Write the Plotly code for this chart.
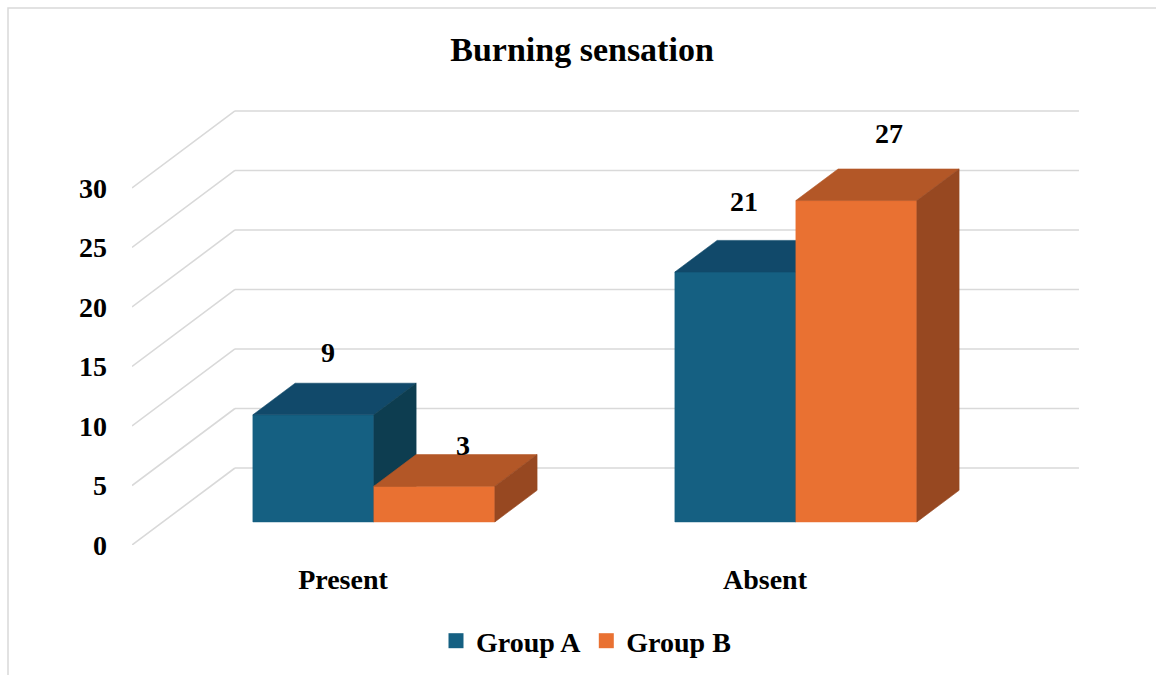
import plotly.graph_objects as go

# Data
categories = ["Present", "Absent"]
series_names = ["Group A", "Group B"]
group_a = [9, 21]
group_b = [3, 27]
tick_values = [0, 5, 10, 15, 20, 25, 30]

values = {"Group A": group_a, "Group B": group_b}

# Colours per series: front, top, side faces
face_colors = {
    "Group A": ("#156082", "#11496a", "#0d3d50"),
    "Group B": ("#e97132", "#b35727", "#974821"),
}

# Oblique projection settings (x in category units, y in value units)
DX = 0.244      # full depth shift along x
DY = 6.47       # full depth shift along y
D0, D1 = 0.30, 0.71   # bar front / back depth
BAR_W = 0.2867  # width of one bar in category units
X_MIN, X_MAX = -0.5, 1.5

# label nudges in px (dx, dy) for the value labels, per series
label_nudge = {"Group A": [(-7, -47), (-13, -55)], "Group B": [(8, -25), (12, -51)]}


def P(x, y, d):
    return x + d * DX, y + d * DY


def poly(pts, color):
    xs = [p[0] for p in pts] + [pts[0][0]]
    ys = [p[1] for p in pts] + [pts[0][1]]
    return go.Scatter(x=xs, y=ys, mode="lines", fill="toself", fillcolor=color,
                      line=dict(color=color, width=0.6), hoverinfo="skip",
                      showlegend=False)


fig = go.Figure()

grid_color = "#d9d9d9"
# back-wall gridlines and left side-wall diagonals
for v in tick_values:
    bx0, by = P(X_MIN, v, 1)
    bx1, _ = P(X_MAX, v, 1)
    fig.add_trace(go.Scatter(x=[bx0, bx1], y=[by, by], mode="lines",
                             line=dict(color=grid_color, width=1.6),
                             hoverinfo="skip", showlegend=False))
    fx, fy = P(X_MIN, v, 0)
    fig.add_trace(go.Scatter(x=[fx, bx0], y=[fy, by], mode="lines",
                             line=dict(color=grid_color, width=1.6),
                             hoverinfo="skip", showlegend=False))

annotations = []
for ci, cat in enumerate(categories):
    for si, s in enumerate(series_names):
        h = values[s][ci]
        x0 = ci - BAR_W + si * BAR_W
        x1 = x0 + BAR_W
        front, top, side = face_colors[s]
        fig.add_trace(poly([P(x0, 0, D0), P(x1, 0, D0), P(x1, h, D0), P(x0, h, D0)], front))
        fig.add_trace(poly([P(x0, h, D0), P(x1, h, D0), P(x1, h, D1), P(x0, h, D1)], top))
        fig.add_trace(poly([P(x1, 0, D0), P(x1, 0, D1), P(x1, h, D1), P(x1, h, D0)], side))
        cx, cy = P((x0 + x1) / 2, h, (D0 + D1) / 2)
        nx, ny = label_nudge[s][ci]
        annotations.append(dict(x=cx, y=cy, text=f"<b>{h}</b>", showarrow=False,
                                xshift=nx, yshift=-ny,
                                font=dict(family="Liberation Serif", size=28, color="#000000")))

# legend entries
for s in series_names:
    fig.add_trace(go.Scatter(x=[None], y=[None], mode="markers", name=f"<b>{s}</b>",
                             showlegend=True,
                             marker=dict(symbol="square", size=15, color=face_colors[s][0])))

fig.update_layout(
    width=1156, height=675,
    margin=dict(l=132, r=77, t=110, b=130),
    paper_bgcolor="white", plot_bgcolor="white",
    font=dict(family="Liberation Serif", color="#000000"),
    title=dict(text="<b>Burning sensation</b>", x=582 / 1156, xref="container",
               y=1 - 49 / 675, yref="container", xanchor="center", yanchor="middle",
               font=dict(size=34, family="Liberation Serif", color="#000000")),
    xaxis=dict(range=[X_MIN, X_MIN + 947 / 422], showgrid=False, zeroline=False,
               showline=False, tickvals=list(range(len(categories))),
               ticktext=[f"<b>{c}</b>" for c in categories], ticks="",
               ticklabelstandoff=15, tickfont=dict(size=28)),
    yaxis=dict(range=[0, 36.55], showgrid=False, zeroline=False, showline=False,
               tickvals=tick_values, ticktext=[f"<b>{v}</b>" for v in tick_values],
               ticks="", ticklabelstandoff=24, tickfont=dict(size=28)),
    legend=dict(orientation="h", x=586 / 1156, xref="container", xanchor="center",
                y=1 - 641 / 675, yref="container", yanchor="middle",
                font=dict(size=28, family="Liberation Serif"), itemclick=False,
                itemwidth=30, tracegroupgap=0),
    annotations=annotations,
    shapes=[dict(type="rect", xref="paper", yref="paper",
                 x0=-124 / 947, y0=-150 / 435, x1=1.2, y1=1 + 102 / 435,
                 line=dict(color="#d9d9d9", width=1.5), layer="below")],
    showlegend=True,
)

fig.write_html("out.html")
